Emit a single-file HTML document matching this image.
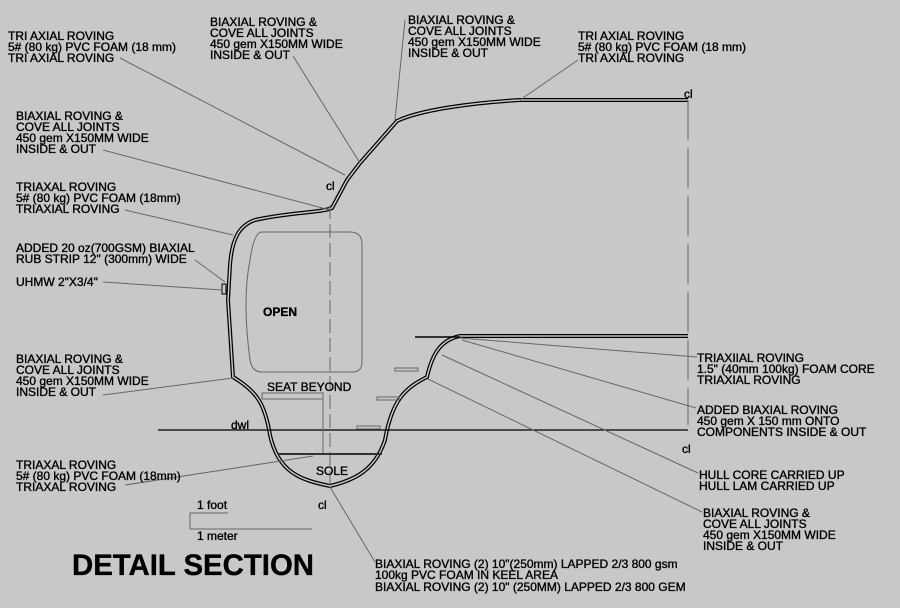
<!DOCTYPE html>
<html><head><meta charset="utf-8"><style>
html,body{margin:0;padding:0;background:#c8c8c8;}
svg{display:block}
text{font-family:"Liberation Sans",sans-serif;font-size:12px;fill:#000;stroke:#000;stroke-width:0.35;}
.b{font-weight:bold}
</style></head><body>
<svg width="900" height="608" viewBox="0 0 900 608" xmlns="http://www.w3.org/2000/svg">
<rect width="900" height="608" fill="#c8c8c8"/>
<g fill="none" stroke="#000">
<path d="M688,100 L520,100 C470,103 420,110 397,121 L360,163 L347,180 L332,208 C320,213 290,212 255,220 C238,226 232,240 230,265 L228,300 L233,377 C258,392 265,405 270,435 C278,472 300,480 330,486 C355,480 375,470 385,440 C392,400 405,388 427,377 C432,355 440,340 460,336 L688,336" stroke-width="4"/>
<path d="M688,100 L520,100 C470,103 420,110 397,121 L360,163 L347,180 L332,208 C320,213 290,212 255,220 C238,226 232,240 230,265 L228,300 L233,377 C258,392 265,405 270,435 C278,472 300,480 330,486 C355,480 375,470 385,440 C392,400 405,388 427,377 C432,355 440,340 460,336 L688,336" stroke="#c8c8c8" stroke-width="1.5"/>
<line x1="415" y1="337" x2="460" y2="337" stroke-width="1.5"/>
<rect x="222" y="284" width="4" height="10" stroke-width="1" fill="#c8c8c8"/>
<line x1="158" y1="430" x2="688" y2="430" stroke-width="1.2"/>
</g>
<g fill="none" stroke="#666" stroke-width="1">
<line x1="330" y1="205" x2="330" y2="485" stroke-dasharray="14,5"/>
<line x1="688" y1="100" x2="688" y2="425" stroke-dasharray="40,8"/>
<path d="M262,232 L350,232 Q362,232 362,244 L362,362 Q362,372 352,372 L262,372 Q252,372 250,360 Q242,300 250,260 Q254,232 262,232 Z"/>
<rect x="262" y="393" width="61" height="6"/>
<line x1="323" y1="399" x2="323" y2="455"/>
<line x1="278" y1="454" x2="382" y2="454" stroke="#333" stroke-width="2"/>
<rect x="395" y="368" width="23" height="3"/>
<rect x="377" y="397" width="22" height="3"/>
<rect x="357" y="426" width="23" height="3"/>
<path d="M228,513 L190,513 L190,529 L312,529"/>
<line x1="120" y1="58" x2="345" y2="175"/>
<line x1="293" y1="56" x2="360" y2="163"/>
<line x1="405" y1="20" x2="395" y2="120"/>
<line x1="578" y1="60" x2="520" y2="100"/>
<line x1="103" y1="150" x2="330" y2="210"/>
<line x1="125" y1="210" x2="233" y2="235"/>
<line x1="195" y1="260" x2="225" y2="282"/>
<line x1="103" y1="282" x2="222" y2="290"/>
<line x1="103" y1="395" x2="233" y2="378"/>
<line x1="125" y1="485" x2="313" y2="456"/>
<line x1="330" y1="487" x2="375" y2="562"/>
<line x1="697" y1="357" x2="460" y2="338"/>
<line x1="696" y1="408" x2="462" y2="340"/>
<line x1="698" y1="473" x2="442" y2="355"/>
<line x1="702" y1="512" x2="428" y2="379"/>
</g>
<g>
<text x="8" y="40">TRI AXIAL ROVING</text>
<text x="8" y="51">5# (80 kg) PVC FOAM (18 mm)</text>
<text x="8" y="62">TRI AXIAL ROVING</text>
<text x="210" y="26">BIAXIAL ROVING &amp;</text>
<text x="210" y="37">COVE ALL JOINTS</text>
<text x="210" y="48">450 gem X150MM WIDE</text>
<text x="210" y="59">INSIDE &amp; OUT</text>
<text x="408" y="24">BIAXIAL ROVING &amp;</text>
<text x="408" y="35">COVE ALL JOINTS</text>
<text x="408" y="46">450 gem X150MM WIDE</text>
<text x="408" y="57">INSIDE &amp; OUT</text>
<text x="578" y="40">TRI AXIAL ROVING</text>
<text x="578" y="51">5# (80 kg) PVC FOAM (18 mm)</text>
<text x="578" y="62">TRI AXIAL ROVING</text>
<text x="16" y="120">BIAXIAL ROVING &amp;</text>
<text x="16" y="131">COVE ALL JOINTS</text>
<text x="16" y="142">450 gem X150MM WIDE</text>
<text x="16" y="153">INSIDE &amp; OUT</text>
<text x="16" y="191">TRIAXAL ROVING</text>
<text x="16" y="202">5# (80 kg) PVC FOAM (18mm)</text>
<text x="16" y="213">TRIAXIAL ROVING</text>
<text x="16" y="252">ADDED 20 oz(700GSM) BIAXIAL</text>
<text x="16" y="263">RUB STRIP 12" (300mm) WIDE</text>
<text x="16" y="286">UHMW 2"X3/4"</text>
<text x="16" y="363">BIAXIAL ROVING &amp;</text>
<text x="16" y="374">COVE ALL JOINTS</text>
<text x="16" y="385">450 gem X150MM WIDE</text>
<text x="16" y="396">INSIDE &amp; OUT</text>
<text x="16" y="469">TRIAXAL ROVING</text>
<text x="16" y="480">5# (80 kg) PVC FOAM (18mm)</text>
<text x="16" y="491">TRIAXAL ROVING</text>
<text x="326" y="190">cl</text>
<text x="684" y="98">cl</text>
<text x="682" y="453">cl</text>
<text x="318" y="509">cl</text>
<text x="263" y="316" class="b" font-size="11">OPEN</text>
<text x="267" y="391">SEAT BEYOND</text>
<text x="231" y="429">dwl</text>
<text x="316" y="475">SOLE</text>
<text x="197" y="509">1 foot</text>
<text x="197" y="540">1 meter</text>
<text x="697" y="362">TRIAXIIAL ROVING</text>
<text x="697" y="373">1.5" (40mm 100kg) FOAM CORE</text>
<text x="697" y="384">TRIAXIAL ROVING</text>
<text x="697" y="414">ADDED BIAXIAL ROVING</text>
<text x="697" y="425">450 gem X 150 mm ONTO</text>
<text x="697" y="436">COMPONENTS INSIDE &amp; OUT</text>
<text x="699" y="479">HULL CORE CARRIED UP</text>
<text x="699" y="490">HULL LAM CARRIED UP</text>
<text x="703" y="517">BIAXIAL ROVING &amp;</text>
<text x="703" y="528">COVE ALL JOINTS</text>
<text x="703" y="539">450 gem X150MM WIDE</text>
<text x="703" y="550">INSIDE &amp; OUT</text>
<text x="375" y="568">BIAXIAL ROVING (2) 10"(250mm) LAPPED 2/3 800 gsm</text>
<text x="375" y="579">100kg PVC FOAM IN KEEL AREA</text>
<text x="375" y="591">BIAXIAL ROVING (2) 10" (250MM) LAPPED 2/3 800 GEM</text>
<text x="72" y="575" class="b" style="font-size:30px" textLength="242" lengthAdjust="spacingAndGlyphs">DETAIL SECTION</text>
</g>
</svg>
</body></html>
